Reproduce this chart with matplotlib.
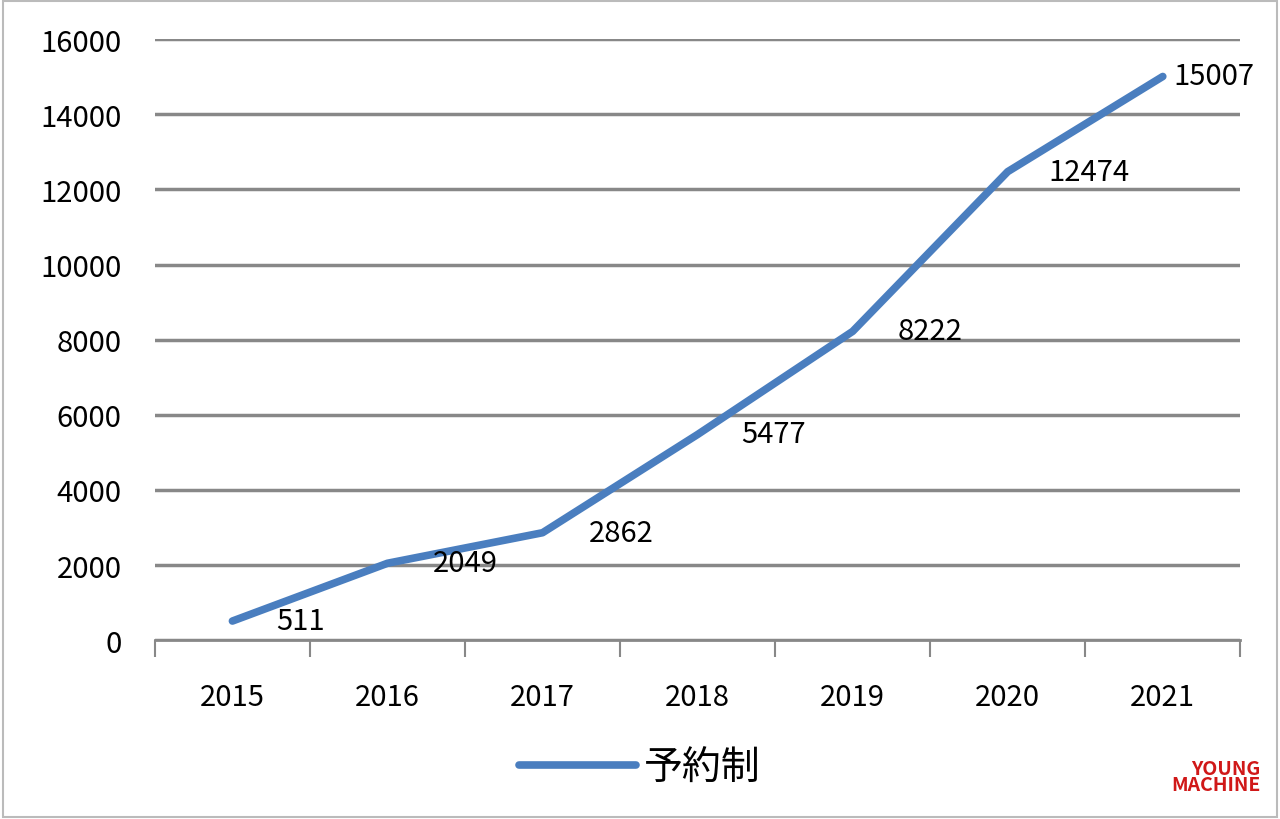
import matplotlib
matplotlib.use("Agg")
import matplotlib.pyplot as plt
from matplotlib.patches import Rectangle

plt.rcParams['font.family'] = ['Noto Sans CJK JP', 'DejaVu Sans']

years = ["2015", "2016", "2017", "2018", "2019", "2020", "2021"]
values = [511, 2049, 2862, 5477, 8222, 12474, 15007]
series_name = "予約制"
label_dx = [0.28, 0.29, 0.3, 0.28, 0.29, 0.26, 0.07]

fig = plt.figure(figsize=(12.8, 8.2), dpi=100)
ax = fig.add_axes([0.121, 0.218, 0.848, 0.733])
x = list(range(len(years)))
ax.plot(x, values, color="#4a7ebf", linewidth=5.5, solid_capstyle="round", label=series_name)
for i, v in enumerate(values):
    ax.text(i + label_dx[i], v, str(v), fontsize=21, ha="left", va="center")

ax.set_xlim(-0.5, 6.5)
ax.set_ylim(0, 16000)
ax.set_yticks(range(0, 16001, 2000))
ax.set_xticks(x)
ax.set_xticklabels(years)
ax.set_xticks([i - 0.5 for i in range(8)], minor=True)
ax.tick_params(axis="x", which="major", length=0, labelsize=21, pad=30)
ax.tick_params(axis="x", which="minor", length=12, width=1.5, color="#888888")
ax.tick_params(axis="y", length=0, labelsize=21, pad=24)
ax.grid(axis="y", color="#888888", linewidth=2.5)
ax.set_axisbelow(True)
for s in ["left", "right", "top"]:
    ax.spines[s].set_visible(False)
ax.spines["bottom"].set_color("#888888")
ax.spines["bottom"].set_linewidth(2)

fig.legend(loc="lower center", bbox_to_anchor=(0.5, -0.005), frameon=False,
           fontsize=28, handlelength=3.0, handletextpad=0.2)

fig.patches.append(Rectangle((0.002, 0.002), 0.996, 0.996, transform=fig.transFigure,
                             fill=False, edgecolor="#bbbbbb", linewidth=1.5))
fig.text(0.985, 0.03, "YOUNG\nMACHINE", color="#d01818", fontsize=14, fontweight="bold",
         ha="right", va="bottom", linespacing=0.8)

fig.savefig("out.png", dpi=100)
